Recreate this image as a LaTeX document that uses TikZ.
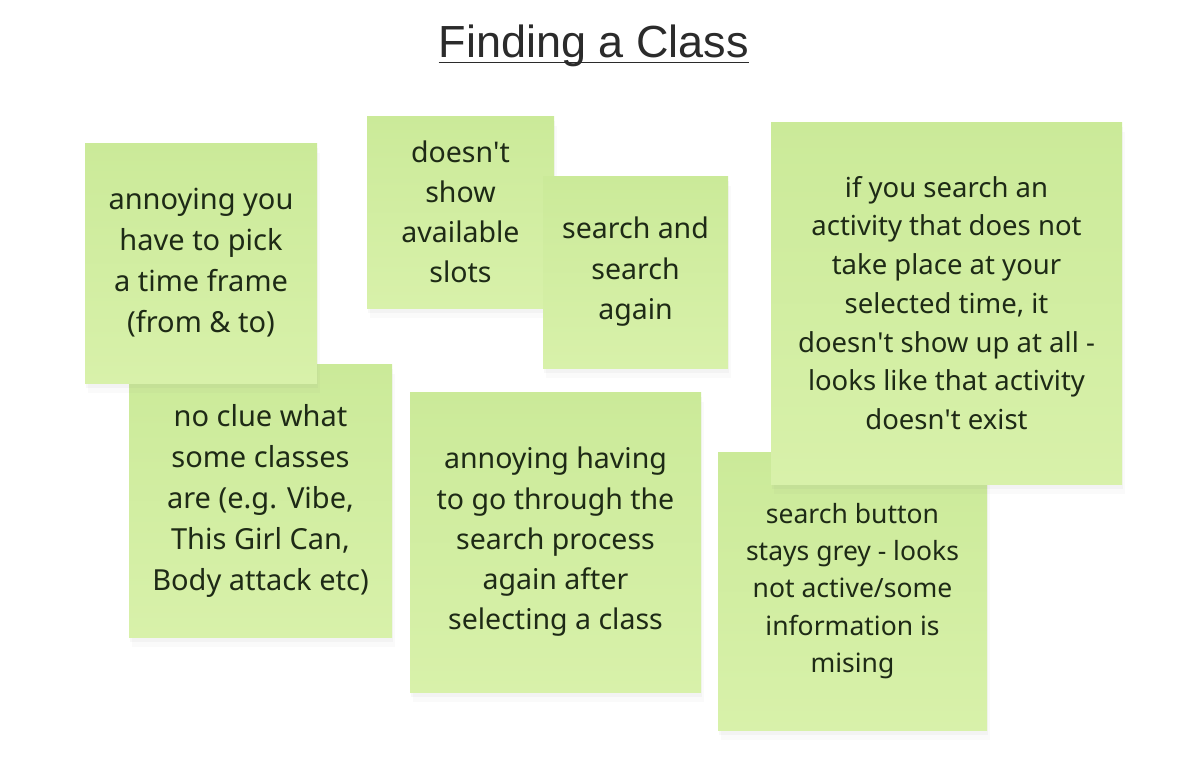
\documentclass[tikz,border=0pt]{standalone}
\usepackage{fontspec}
\setmainfont{Noto Sans}
\newfontfamily\titlefont{Liberation Sans}
\usepackage{xcolor}
\usetikzlibrary{shadows, positioning}
\definecolor{stickytop}{HTML}{CBEA99}
\definecolor{stickybot}{HTML}{D8F1AA}
\definecolor{stickyink}{HTML}{1E2A16}
\definecolor{titleink}{HTML}{2B2B2B}
\newcommand{\notefont}[2]{\fontsize{#1}{#2}\selectfont}
\newcommand{\ap}{\textquotesingle}

\begin{document}
\begin{tikzpicture}[x=1pt, y=-1pt,
    sticky/.style={rectangle, inner sep=0pt, align=center, text=stickyink,
                   top color=stickytop, bottom color=stickybot,
                   drop shadow={shadow xshift=3pt, shadow yshift=-10pt, opacity=.04},
                   drop shadow={shadow xshift=1pt, shadow yshift=-5pt, opacity=.06}},
    every node/.style={font=\notefont{29}{41}},
]
    \useasboundingbox (0,0) rectangle (1188,769);

    % title
    \node[font=\titlefont\fontsize{45}{50}\selectfont, text=titleink, inner sep=0pt, anchor=base] (title) at (594,57) {Finding a Class};
    \draw[titleink, line width=1.2pt] ([yshift=-5.5pt]title.base west) -- ([yshift=-5.5pt]title.base east);

    % left pair
    \node[sticky, minimum width=263pt, minimum height=273pt] (noclue) at (260.5,500.5)
        {no clue what\\some classes\\are (e.g. Vibe,\\This Girl Can,\\Body attack etc)};
    \node[sticky, minimum width=232pt, minimum height=240pt] (pickframe) at (201,263)
        {annoying you\\have to pick\\a time frame\\(from \& to)};

    % middle pair
    \node[sticky, minimum width=187pt, minimum height=192pt, font=\notefont{28.5}{40}] (noslots) at (460.5,212)
        {doesn\ap t\\show\\available\\slots};
    \node[sticky, minimum width=185pt, minimum height=192pt, font=\notefont{28.5}{40.5}] (searchagain) at (635.5,272)
        {search and\\search\\again};

    % right pair
    \node[sticky, minimum width=269pt, minimum height=278pt, font=\notefont{26.5}{37.3}] (greybutton) at (852.5,591)
        {search button\\stays grey - looks\\not active/some\\information is\\mising};
    \node[sticky, minimum width=351pt, minimum height=362pt, font=\notefont{27.5}{38.7}] (notexist) at (946.5,303)
        {if you search an\\activity that does not\\take place at your\\selected time, it\\doesn\ap t show up at all -\\looks like that activity\\doesn\ap t exist};

    \node[sticky, minimum width=291pt, minimum height=300pt, font=\notefont{28.5}{40.25}] (searchprocess) at (555.5,542)
        {annoying having\\to go through the\\search process\\again after\\selecting a class};
\end{tikzpicture}
\end{document}
